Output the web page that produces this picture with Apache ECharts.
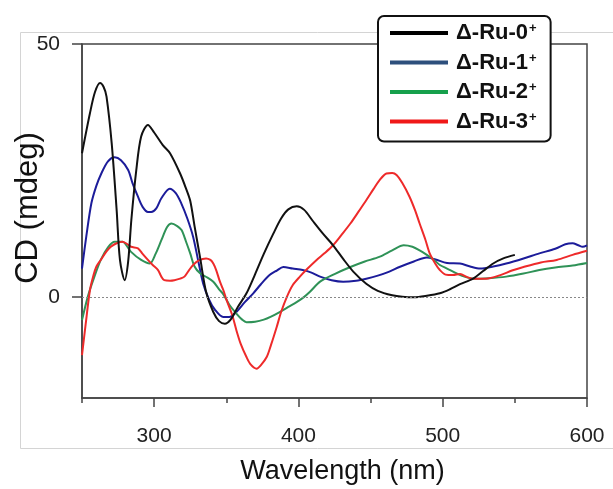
<!DOCTYPE html>
<html>
<head>
<meta charset="UTF-8">
<title>CD spectra</title>
<script src="https://cdn.jsdelivr.net/npm/echarts@6/dist/echarts.min.js"></script>
<style>
  body { margin: 0; background: #fff; }
  #chart { width: 613px; height: 489px; }
</style>
</head>
<body>
<div id="chart"></div>
<script>
  // series names and colours
  const names = ['Δ-Ru-0', 'Δ-Ru-1', 'Δ-Ru-2', 'Δ-Ru-3'];
  const lineColors = ['#111111', '#1c1c9a', '#2f9257', '#ee2a2a'];
  const legendColors = ['#000000', '#2d4f7c', '#16a04c', '#f01818'];

  // [wavelength nm, CD mdeg]
  const ru0 = [[250,28.4],[255.5,36.3],[259,40.5],[262.5,42.3],[265,41.5],[267,39.6],[270.6,30.3],[274,17.2],[276.3,7.3],[279.6,3.3],[282,7],[284.2,15.2],[287.6,25],[291,31.7],[295.7,34.0],[300,32.5],[306,30],[311,28.4],[318,24.4],[322,21.5],[325,19],[328,14],[332,7.5],[336,1],[341,-3],[345,-4.8],[349,-5.3],[353,-4.5],[358,-2],[364,0.7],[370,4.5],[376,8.5],[382.6,12.5],[388,15.5],[393,17.3],[398.8,17.9],[404,17.2],[410,15],[417,12.5],[424,10.2],[431,7.5],[438,5],[447,2.6],[455,1.2],[465,0.3],[472,0],[480,-0.1],[489,0.2],[498,0.7],[505,1.5],[512,2.5],[521,3.6],[528,5.1],[535,6.6],[542,7.6],[550,8.3]];
  const ru1 = [[250,5.6],[253,12],[256.5,18.5],[260,22],[263.4,24.4],[268,26.8],[272.7,27.6],[277,27],[282,25.1],[285,22.5],[288.8,19.8],[292,17.8],[295.7,16.8],[298,16.8],[301.5,17.5],[305,19.5],[310.8,21.4],[315,20.5],[318.8,18.5],[323,15.5],[327,11.9],[331,6.5],[334,2.6],[338,-0.5],[342,-2.5],[347.9,-4.0],[352,-4],[357,-3.0],[363,-1],[368.7,0.7],[374,2.5],[380,4.3],[385,5.2],[389.5,5.9],[396,5.6],[403,5.3],[409,4.8],[415,4.0],[423,3.3],[431,3.0],[440,3.2],[447,3.6],[455,4.2],[463,5],[470,5.9],[480,7],[489,7.8],[495,7.4],[503,6.7],[512,6.6],[519,6],[526,5.6],[535,6],[544,6.6],[556,7.6],[567,8.6],[578,9.5],[585,10.4],[590,10.6],[594,10.2],[597,9.9],[600,10.2]];
  const ru2 = [[250,-4.6],[254,0],[258,3.5],[263,7.3],[268,9.8],[272.7,10.9],[278,10.9],[284,8.9],[291,7.3],[297,6.6],[301,8.5],[305,11.2],[309,13.8],[312,14.5],[316,14],[319,13.2],[322,11],[325,8.6],[328,6],[332,4.6],[337,3.8],[341,3.0],[345,1.5],[348,0.5],[352,-1.5],[357,-3.3],[361,-4.5],[364,-5.0],[370,-4.9],[376,-4.5],[381,-3.9],[387,-3.0],[393,-2],[399,-1.0],[404,0],[408,1.0],[415,3.0],[425,4.5],[436,5.9],[446,7],[456,7.9],[465,9.2],[473,10.2],[479,9.9],[484,9.2],[489,8.3],[494,7.3],[498,6.3],[503,5.6],[510,4.6],[515,4],[521,3.6],[532,3.7],[544,4],[556,4.6],[567,5.3],[578,5.8],[590,6.2],[600,6.7]];
  const ru3 = [[250,-11.5],[252.5,-5.5],[255.5,1.3],[258,4.3],[260,6],[263,7.3],[267,9],[270,9.9],[274,10.6],[278,10.9],[281,10.5],[284,9.9],[288.8,9.6],[292,8.5],[295.7,7.3],[299,6.3],[302.7,5.3],[305,4],[307,3.3],[311,3.2],[314,3.3],[318,3.6],[321,4.0],[324,5.2],[327,6.3],[331,7.2],[336,7.6],[339,7.3],[341,6.6],[343,5.3],[345.6,3.0],[348,1.3],[350.3,-0.7],[354,-3.5],[357,-6.6],[360,-9.3],[364,-11.9],[367,-13.4],[371,-14.2],[374,-13.5],[378,-11.9],[381,-9.5],[385,-5.9],[388,-3],[392,0],[396,2.3],[401,4.0],[406,5.5],[412.6,7.3],[418,8.6],[424,10.2],[430,12.3],[436,14.5],[442,17],[447,19.1],[452,21.3],[456,23],[461,24.4],[465,24.5],[468,24.1],[472,22.5],[477,19.8],[481,17],[484,14.5],[488,11.3],[491,8.6],[495,6.5],[498,5.3],[502,4.4],[507,4.3],[512,4.5],[517,3.9],[521,3.6],[530,3.6],[540,4.3],[548,5.2],[556,5.9],[568,6.8],[579,7.3],[590,8.3],[600,9.1]];
  const seriesData = [ru0, ru1, ru2, ru3];

  // tick labels
  const xMajor = [300, 400, 500, 600];
  const xMinor = [250, 350, 450, 550];
  const yTicks = [0, 50];

  const chart = echarts.init(document.getElementById('chart'));
  const font = 'Liberation Sans, Arial, sans-serif';

  const series = names.map((n, i) => ({
    name: n,
    type: 'line',
    data: seriesData[i],
    smooth: 0.3,
    showSymbol: false,
    lineStyle: { color: lineColors[i], width: 2 },
    itemStyle: { color: lineColors[i] },
    z: 3 + (i === 0 ? 1 : 0),
    markLine: i === 0 ? {
      silent: true,
      symbol: 'none',
      label: { show: false },
      lineStyle: { color: '#888', type: [2, 2], width: 1 },
      data: [{ yAxis: 0 }]
    } : undefined
  }));

  chart.setOption({
    animation: false,
    backgroundColor: '#fff',
    graphic: [{
      type: 'rect',
      z: -10,
      shape: { x: 20.5, y: 32.5, width: 620, height: 416 },
      style: { fill: 'none', stroke: '#d4d4d4', lineWidth: 1 }
    }],
    grid: {
      left: 82, right: 26, top: 44, bottom: 91,
      outerBoundsMode: 'none',
      show: true, borderColor: '#444', borderWidth: 1.5
    },
    legend: {
      orient: 'vertical',
      left: 378, top: 16,
      padding: [6, 14, 9, 12],
      backgroundColor: '#fff',
      borderColor: '#111',
      borderWidth: 2,
      borderRadius: 6,
      z: 10,
      icon: 'rect',
      itemWidth: 58,
      itemHeight: 4,
      itemGap: 7.5,
      data: names.map((n, i) => ({ name: n, itemStyle: { color: legendColors[i] } })),
      formatter: n => n + '{s|+}',
      textStyle: {
        fontFamily: font, fontSize: 22, fontWeight: 'bold', color: '#111', lineHeight: 22,
        padding: [0, 0, 0, 3],
        rich: { s: { fontFamily: font, fontSize: 13, fontWeight: 'bold', color: '#111', padding: [0, 0, 9, 1] } }
      }
    },
    xAxis: [{
      type: 'value', min: 250, max: 600,
      name: 'Wavelength (nm)', nameLocation: 'middle', nameGap: 60, nameMoveOverlap: false,
      nameTextStyle: { fontFamily: font, fontSize: 27, color: '#111', padding: [0, 0, 0, 16] },
      axisLine: { show: true, onZero: false, lineStyle: { color: '#444', width: 1.5 } },
      axisTick: { show: true, customValues: xMajor, length: 9, lineStyle: { color: '#444', width: 1.5 } },
      axisLabel: { customValues: xMajor, margin: 28, fontFamily: font, fontSize: 21, color: '#222' },
      splitLine: { show: false }
    }, {
      type: 'value', min: 250, max: 600, position: 'bottom',
      axisLine: { show: false, onZero: false },
      axisTick: { show: true, customValues: xMinor, length: 5, lineStyle: { color: '#444', width: 1.5 } },
      axisLabel: { show: false },
      splitLine: { show: false }
    }],
    yAxis: {
      type: 'value', min: -20, max: 50,
      name: 'CD (mdeg)', nameLocation: 'middle', nameGap: 38, nameRotate: 90, nameMoveOverlap: false,
      nameTextStyle: { fontFamily: font, fontSize: 31, color: '#111', padding: [0, 0, 0, 26] },
      axisLine: { show: true, onZero: false, lineStyle: { color: '#444', width: 1.5 } },
      axisTick: { show: true, customValues: yTicks, length: 10, lineStyle: { color: '#444', width: 1.5 } },
      axisLabel: { customValues: yTicks, margin: 22, fontFamily: font, fontSize: 21, color: '#222' },
      splitLine: { show: false }
    },
    series: series
  });
</script>
</body>
</html>
